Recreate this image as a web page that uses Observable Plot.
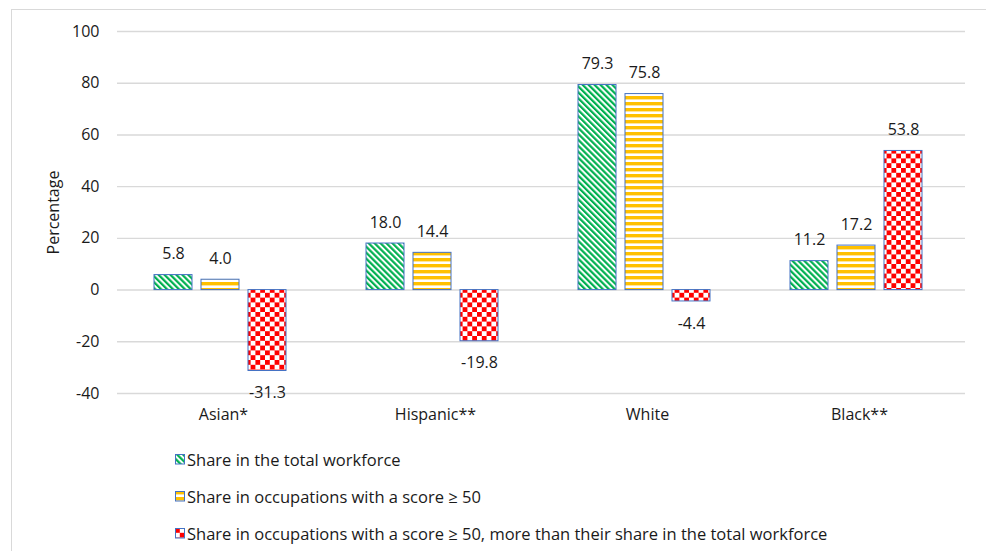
<!DOCTYPE html>
<html>
<head>
<meta charset="utf-8">
<script src="https://cdn.jsdelivr.net/npm/d3@7"></script>
<script src="https://cdn.jsdelivr.net/npm/@observablehq/plot@0.6"></script>
<style>
  body { margin: 0; background: #fff; font-family: "Open Sans", sans-serif; }
  #frame { position: absolute; left: 11px; top: 9px; width: 990px; height: 560px;
           border-left: 1px solid #d9d9d9; border-top: 1px solid #d9d9d9; }
  #chart { position: absolute; left: 0; top: 0; }
  #legend { position: absolute; left: 175px; top: 441px; font-size: 16.5px; color: #1a1a1a; }
  .item { display: flex; align-items: center; height: 37px; white-space: nowrap; }
  .item svg { margin-right: 2px; }
</style>
</head>
<body>
<div id="frame"></div>
<div id="chart"></div>
<div id="legend"></div>
<script>
// Groups along the horizontal axis
const categories = ["Asian*", "Hispanic**", "White", "Black**"];

// Series names (legend order)
const seriesNames = [
  "Share in the total workforce",
  "Share in occupations with a score \u2265 50",
  "Share in occupations with a score \u2265 50, more than their share in the total workforce"
];

// Percentages per group, one array per series
const totalWorkforce = [5.8, 18.0, 79.3, 11.2];
const scoreAbove50 = [4.0, 14.4, 75.8, 17.2];
const excessShare = [-31.3, -19.8, -4.4, 53.8];

// Value-axis ticks
const yTicks = [-40, -20, 0, 20, 40, 60, 80, 100];

const seriesValues = [totalWorkforce, scoreAbove50, excessShare];
const rows = categories.flatMap((category, i) =>
  seriesNames.map((series, s) => ({category, series, value: seriesValues[s][i]}))
);

// Pattern fills: green wide diagonal hatch, yellow horizontal stripes, red checkerboard
const patternIds = ["hatch-green", "stripe-yellow", "check-red"];
const defs = `<defs>
  <pattern id="hatch-green" patternUnits="userSpaceOnUse" width="4.2" height="4.2" patternTransform="rotate(-45)">
    <rect width="4.2" height="4.2" fill="#fff"/><rect width="2.2" height="4.2" fill="#00B050"/>
  </pattern>
  <pattern id="stripe-yellow" patternUnits="userSpaceOnUse" width="6" height="6">
    <rect width="6" height="6" fill="#fff"/><rect width="6" height="3.4" fill="#FFC000"/>
  </pattern>
  <pattern id="check-red" patternUnits="userSpaceOnUse" width="9.6" height="9.6">
    <rect width="9.6" height="9.6" fill="#fff"/>
    <rect width="4.8" height="4.8" fill="#FF0000"/><rect x="4.8" y="4.8" width="4.8" height="4.8" fill="#FF0000"/>
  </pattern>
</defs>`;

const chart = Plot.plot({
  width: 986,
  height: 440,
  marginLeft: 116,
  marginRight: 21,
  marginTop: 31,
  marginBottom: 47,
  style: {fontFamily: "'Open Sans', sans-serif", fontSize: "16px", color: "#1a1a1a", background: "transparent"},
  fx: {domain: categories, padding: 0, label: null, tickSize: 0, tickPadding: 15},
  x: {domain: seriesNames, paddingInner: 0.2, paddingOuter: 0.83, align: 0.462, axis: null},
  y: {domain: [-40, 100], ticks: yTicks, tickSize: 0, tickPadding: 18, tickFormat: d => String(d),
      label: "Percentage", labelAnchor: "center", labelArrow: "none", labelOffset: 70},
  marks: [
    Plot.gridY(yTicks, {stroke: "#d9d9d9", strokeOpacity: 1, strokeWidth: 1.4}),
    ...seriesNames.map((s, k) =>
      Plot.barY(rows.filter(d => d.series === s), {
        fx: "category", x: "series", y: "value",
        fill: `url(#${patternIds[k]})`, stroke: "#4472C4", strokeWidth: 1
      })
    ),
    Plot.text(rows.filter(d => d.value >= 0), {
      fx: "category", x: "series", y: "value",
      text: d => d.value.toFixed(1), dy: -21, fontSize: 16, fill: "#1a1a1a"
    }),
    Plot.text(rows.filter(d => d.value < 0), {
      fx: "category", x: "series", y: "value",
      text: d => d.value.toFixed(1), dy: 22, fontSize: 16, fill: "#1a1a1a"
    })
  ]
});
chart.insertAdjacentHTML("afterbegin", defs);
document.getElementById("chart").appendChild(chart);

// Legend rows with pattern swatches
const legend = document.getElementById("legend");
seriesNames.forEach((name, k) => {
  const item = document.createElement("div");
  item.className = "item";
  item.innerHTML = `<svg width="10" height="11"><rect x="0.5" y="0.5" width="9" height="9.5" fill="url(#${patternIds[k]})" stroke="#4472C4" stroke-width="1"/></svg><span>${name}</span>`;
  legend.appendChild(item);
});
</script>
</body>
</html>
